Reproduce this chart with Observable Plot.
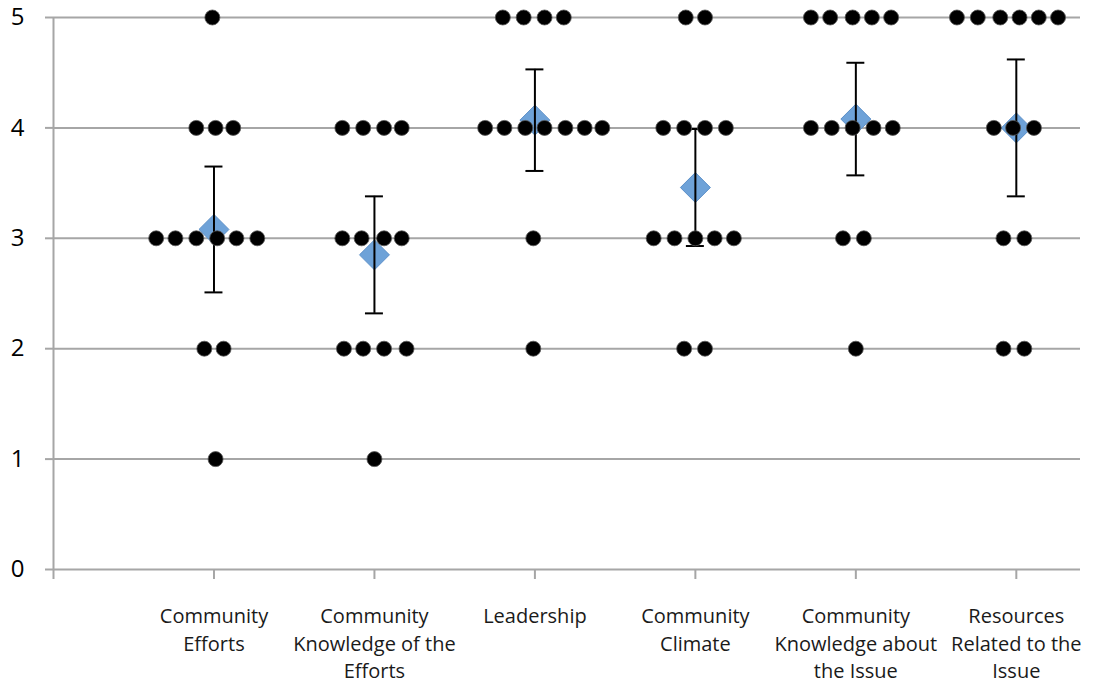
<!DOCTYPE html>
<html>
<head>
<meta charset="utf-8">
<script src="https://cdn.jsdelivr.net/npm/d3@7"></script>
<script src="https://cdn.jsdelivr.net/npm/@observablehq/plot@0.6"></script>
<style>
  html, body { margin: 0; padding: 0; background: #fff; }
  #chart svg { display: block; }
</style>
</head>
<body>
<div id="chart"></div>
<script>
// Categories (x positions 1..6 in the original scatter chart)
const categories = [
  "Community\nEfforts",
  "Community\nKnowledge of the\nEfforts",
  "Leadership",
  "Community\nClimate",
  "Community\nKnowledge about\nthe Issue",
  "Resources\nRelated to the\nIssue"
];
const categoryX = [1, 2, 3, 4, 5, 6];

// Mean rating and error-bar half-length per category
const means  = [3.08, 2.85, 4.07, 3.46, 4.08, 4.00];
const errors = [0.57, 0.53, 0.46, 0.53, 0.51, 0.62];

// Individual responses per category: [x (jittered), rating]
const effortsDots = [
  [0.99,5],
  [0.89,4],[1.01,4],[1.12,4],
  [0.64,3],[0.76,3],[0.89,3],[1.02,3],[1.14,3],[1.27,3],
  [0.94,2],[1.06,2],
  [1.01,1]
];
const knowledgeEffortsDots = [
  [1.80,4],[1.93,4],[2.06,4],[2.17,4],
  [1.80,3],[1.92,3],[2.06,3],[2.17,3],
  [1.81,2],[1.93,2],[2.06,2],[2.20,2],
  [2.00,1]
];
const leadershipDots = [
  [2.80,5],[2.93,5],[3.06,5],[3.18,5],
  [2.69,4],[2.81,4],[2.94,4],[3.06,4],[3.19,4],[3.31,4],[3.42,4],
  [2.99,3],
  [2.99,2]
];
const climateDots = [
  [3.94,5],[4.06,5],
  [3.80,4],[3.93,4],[4.06,4],[4.19,4],
  [3.74,3],[3.87,3],[4.00,3],[4.12,3],[4.24,3],
  [3.93,2],[4.06,2]
];
const knowledgeIssueDots = [
  [4.72,5],[4.84,5],[4.98,5],[5.10,5],[5.22,5],
  [4.72,4],[4.85,4],[4.98,4],[5.11,4],[5.23,4],
  [4.92,3],[5.05,3],
  [5.00,2]
];
const resourcesDots = [
  [5.63,5],[5.76,5],[5.90,5],[6.02,5],[6.14,5],[6.26,5],
  [5.86,4],[5.98,4],[6.11,4],
  [5.92,3],[6.05,3],
  [5.92,2],[6.05,2]
];

const yTicks = [0, 1, 2, 3, 4, 5];
const xTicks = [0, 1, 2, 3, 4, 5, 6];

// Build tables for the library
const allDots = [effortsDots, knowledgeEffortsDots, leadershipDots, climateDots, knowledgeIssueDots, resourcesDots]
  .flatMap(arr => arr.map(([x, rating]) => ({x, rating})));
const summary = categoryX.map((x, i) => ({
  x, label: categories[i], mean: means[i], lo: means[i] - errors[i], hi: means[i] + errors[i]
}));
const capHalf = 0.056;

const grey = "#a6a6a6";

const chart = Plot.plot({
  width: 1109,
  height: 684,
  marginLeft: 53,
  marginRight: 29,
  marginTop: 17,
  marginBottom: 115,
  style: {fontFamily: "'Open Sans', sans-serif", background: "#fff", overflow: "visible"},
  x: {domain: [0, 6.4]},
  y: {domain: [0, 5]},
  marks: [
    Plot.ruleY([1, 2, 3, 4, 5], {stroke: grey, strokeWidth: 2}),
    Plot.ruleY([0], {stroke: grey, strokeWidth: 2}),
    Plot.ruleX([0], {stroke: grey, strokeWidth: 2}),
    Plot.axisY({ticks: yTicks, tickSize: 8, tickPadding: 21, stroke: grey, strokeWidth: 2,
                fill: "#000", fontSize: 24, tickFormat: d3.format("d"), label: null}),
    Plot.axisX({ticks: xTicks, tickSize: 10, stroke: grey, strokeWidth: 2,
                tickFormat: () => "", label: null}),
    Plot.text(summary, {x: "x", y: 0, text: "label", dy: 34, lineAnchor: "top",
                        lineHeight: 1.38, fontSize: 20, fill: "#1a1a1a"}),
    Plot.dot(summary, {x: "x", y: "mean", symbol: "diamond2", r: 13.5,
                       fill: "#6ea2d8", stroke: "#5b8fc8", strokeWidth: 1}),
    Plot.ruleX(summary, {x: "x", y1: "lo", y2: "hi", stroke: "#000", strokeWidth: 2}),
    Plot.ruleY(summary, {y: "hi", x1: d => d.x - capHalf, x2: d => d.x + capHalf, stroke: "#000", strokeWidth: 2}),
    Plot.ruleY(summary, {y: "lo", x1: d => d.x - capHalf, x2: d => d.x + capHalf, stroke: "#000", strokeWidth: 2}),
    Plot.dot(allDots, {x: "x", y: "rating", r: 7.5, fill: "#000", stroke: "#555", strokeWidth: 0.8})
  ]
});
document.getElementById("chart").appendChild(chart);
</script>
</body>
</html>
